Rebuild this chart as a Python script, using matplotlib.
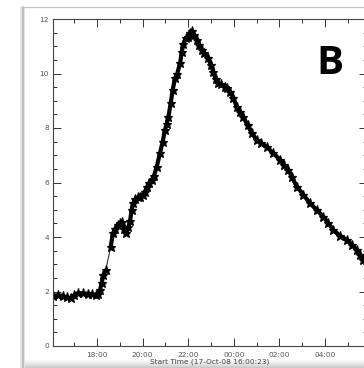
import matplotlib
matplotlib.use("Agg")
import matplotlib.pyplot as plt
import numpy as np
from matplotlib.lines import Line2D
from matplotlib.patches import Rectangle

# time in hours since 17-Oct-08 00:00 (values > 24 are next day)
hours = [16.07, 16.3, 16.5, 16.7, 16.85, 17.0, 17.15, 17.4, 17.6, 17.8, 17.95,
         18.05, 18.13, 18.2, 18.28, 18.38, 18.6, 18.7, 18.8, 18.9, 19.0, 19.1,
         19.2, 19.28, 19.37, 19.45, 19.52, 19.6, 19.67, 19.8, 19.9, 20.0, 20.1,
         20.2, 20.3, 20.4, 20.5, 20.62, 20.76, 20.88, 20.98, 21.06, 21.13, 21.23,
         21.32, 21.42, 21.52, 21.64, 21.72, 21.79, 21.9, 22.0, 22.08, 22.15,
         22.25, 22.37, 22.48, 22.59, 22.7, 22.88, 23.0, 23.1, 23.2, 23.32, 23.45,
         23.61, 23.72, 23.83, 23.98, 24.13, 24.28, 24.42, 24.6, 24.8, 25.0, 25.2,
         25.44, 25.7, 26.03, 26.2, 26.39, 26.55, 26.76, 27.05, 27.34, 27.65,
         27.93, 28.15, 28.36, 28.65, 28.95, 29.2, 29.39, 29.55, 29.68, 29.85]
flux = [1.85, 1.86, 1.84, 1.78, 1.76, 1.86, 1.94, 1.93, 1.92, 1.90, 1.87,
        1.92, 2.05, 2.3, 2.6, 2.78, 3.64, 4.14, 4.3, 4.45, 4.5, 4.55,
        4.3, 4.15, 4.35, 4.6, 5.0, 5.25, 5.38, 5.45, 5.48, 5.55, 5.66,
        5.85, 6.0, 6.1, 6.25, 6.58, 7.07, 7.5, 7.93, 8.15, 8.41, 8.9,
        9.4, 9.82, 10.0, 10.37, 10.8, 11.1, 11.3, 11.35, 11.5, 11.55,
        11.4, 11.23, 11.05, 10.86, 10.75, 10.56, 10.3, 10.07, 9.8, 9.64, 9.6,
        9.52, 9.45, 9.33, 9.1, 8.78, 8.6, 8.41, 8.1, 7.8, 7.56, 7.45,
        7.31, 7.1, 6.83, 6.65, 6.46, 6.2, 5.85, 5.55, 5.24, 4.98,
        4.74, 4.5, 4.26, 4.05, 3.89, 3.7, 3.52, 3.33, 3.16, 3.0]
gap_index = 16  # data gap (thin connecting line) between 18.38 h and 18.6 h

x_ticks = [18, 20, 22, 24, 26, 28]
x_tick_labels = ["18:00", "20:00", "22:00", "00:00", "02:00", "04:00"]
y_ticks = [0, 2, 4, 6, 8, 10, 12]
x_label = "Start Time (17-Oct-08 16:00:23)"
panel_label = "B"

W, H = 364, 368
fig = plt.figure(figsize=(W / 100, H / 100), dpi=100)
fig.patch.set_facecolor("white")

def fx(px):
    return px / W
def fy(py):
    return 1 - py / H

# slide-like frame
fig.add_artist(Rectangle((fx(20), fy(368)), fx(5) - fx(0), fy(7) - fy(368),
                         transform=fig.transFigure, facecolor="#e4e4e4",
                         edgecolor="none", zorder=0))
fig.add_artist(Line2D([fx(22.5), fx(22.5)], [fy(7), fy(368)], transform=fig.transFigure,
                      color="#b8b8b8", lw=1.2, zorder=1))
fig.add_artist(Line2D([fx(22), fx(364)], [fy(7), fy(7)], transform=fig.transFigure,
                      color="#c4c4c4", lw=0.9, zorder=1))
grad = np.linspace(0, 1, 20).reshape(-1, 1)
bax = fig.add_axes([fx(25), 0, 1 - fx(25), fy(360)], zorder=0)
bax.imshow(grad, aspect="auto", cmap="Greys", vmin=-0.2, vmax=3.5,
           extent=[0, 1, 0, 1], origin="upper")
bax.axis("off")

ax = fig.add_axes([fx(53), fy(346), fx(367) - fx(53), fy(19) - fy(346)], zorder=2)
ax.plot(hours, flux, color="#333333", lw=0.8)
for seg in (slice(0, gap_index), slice(gap_index, None)):
    ax.plot(hours[seg], flux[seg], color="black", lw=3.0, marker="*", ms=6.5,
            mew=0.9, solid_joinstyle="round", solid_capstyle="round")
ax.set_xlim(16.07, 29.84)
ax.set_ylim(0, 12)

ax.set_xticks(x_ticks)
ax.set_xticklabels(x_tick_labels)
ax.set_xticks(np.arange(17, 30, 1), minor=True)
ax.set_yticks(y_ticks)
ax.set_yticks(np.arange(0, 12.01, 0.5), minor=True)

ax.tick_params(which="both", direction="in", top=True, right=True,
               colors="#333333", labelcolor="#555555", width=0.7)
ax.tick_params(which="major", length=6, labelsize=5.3)
ax.tick_params(which="minor", length=3)
ax.tick_params(axis="x", which="major", pad=4)
ax.tick_params(axis="y", which="major", pad=3)
for s in ax.spines.values():
    s.set_color("#444444")
    s.set_linewidth(0.8)
ax.set_xlabel(x_label, fontsize=5.3, color="#444444", labelpad=0.5)

fig.text(fx(330), fy(64), panel_label, fontsize=29, fontweight="bold",
         family="Open Sans", ha="center", va="center", color="black", zorder=5)

fig.savefig("out.png", dpi=100)
